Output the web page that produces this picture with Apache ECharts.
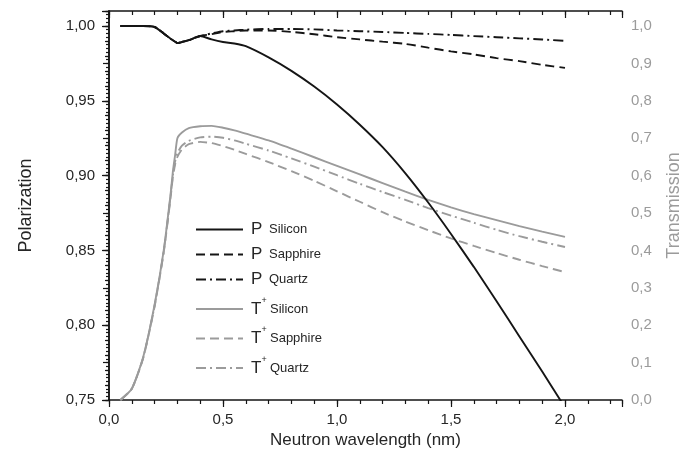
<!DOCTYPE html>
<html>
<head>
<meta charset="utf-8">
<script src="https://cdn.jsdelivr.net/npm/echarts@6/dist/echarts.min.js"></script>
<style>
  html, body { margin: 0; padding: 0; background: #fff; }
  #chart { width: 681px; height: 463px; }
</style>
</head>
<body>
<div id="chart"></div>
<script>
// Neutron wavelength (nm) sampling shared by all curves
const wavelength = [0.05, 0.10, 0.15, 0.20, 0.24, 0.27, 0.28, 0.29, 0.30, 0.32, 0.35, 0.40, 0.45, 0.50, 0.55, 0.60,
                    0.70, 0.80, 0.90, 1.00, 1.10, 1.20, 1.30, 1.40, 1.50, 1.60, 1.70, 1.80, 1.90, 2.00];

// Polarization P (left axis)
const pSilicon  = [1.000, 1.000, 1.000, 0.9993, 0.995, 0.9915, 0.9905, 0.9895, 0.9885, 0.9893, 0.9905, 0.9933, 0.991, 0.9893, 0.9883, 0.9865,
                   0.979, 0.970, 0.9595, 0.9475, 0.934, 0.919, 0.9015, 0.882, 0.861, 0.839, 0.816, 0.7925, 0.769, 0.745];
const pSapphire = [1.000, 1.000, 1.000, 0.9993, 0.995, 0.9915, 0.9905, 0.9895, 0.9885, 0.9893, 0.9905, 0.9933, 0.9945, 0.996, 0.9965, 0.997,
                   0.997, 0.996, 0.9945, 0.9925, 0.991, 0.9895, 0.988, 0.9855, 0.983, 0.981, 0.9785, 0.9765, 0.974, 0.972];
const pQuartz   = [1.000, 1.000, 1.000, 0.9993, 0.995, 0.9915, 0.9905, 0.9895, 0.9885, 0.9893, 0.9905, 0.9933, 0.995, 0.9965, 0.997, 0.9975,
                   0.998, 0.998, 0.9977, 0.997, 0.9965, 0.996, 0.9953, 0.9947, 0.994, 0.9932, 0.9925, 0.9917, 0.991, 0.990];

// Transmission T+ (right axis)
const tSilicon  = [0.000, 0.030, 0.115, 0.255, 0.400, 0.550, 0.610, 0.655, 0.700, 0.715, 0.727, 0.732, 0.733, 0.728, 0.721, 0.712,
                   0.694, 0.672, 0.649, 0.626, 0.603, 0.580, 0.557, 0.535, 0.515, 0.497, 0.481, 0.465, 0.450, 0.436];
const tSapphire = [0.000, 0.030, 0.112, 0.250, 0.395, 0.540, 0.595, 0.630, 0.650, 0.670, 0.684, 0.690, 0.687, 0.679, 0.669, 0.658,
                   0.636, 0.612, 0.586, 0.558, 0.530, 0.502, 0.477, 0.454, 0.432, 0.412, 0.393, 0.375, 0.358, 0.342];
const tQuartz   = [0.000, 0.030, 0.113, 0.252, 0.397, 0.545, 0.600, 0.638, 0.660, 0.680, 0.693, 0.702, 0.704, 0.701, 0.694, 0.685,
                   0.667, 0.646, 0.624, 0.601, 0.578, 0.556, 0.535, 0.513, 0.493, 0.474, 0.455, 0.438, 0.423, 0.409];

const seriesNames = ['P Silicon', 'P Sapphire', 'P Quartz', 'T+ Silicon', 'T+ Sapphire', 'T+ Quartz'];

const BLACK = '#151515';
const GRAY = '#9b9b9b';
const LABEL = '#262626';
const FONT = '"Liberation Sans", Arial, sans-serif';
const GRID = { left: 109, right: 59, top: 11, bottom: 63, containLabel: false, outerBoundsMode: 'none' };

const pairs = ys => wavelength.map((x, i) => [x, ys[i]]);
const comma = (v, d) => v.toFixed(d).replace('.', ',');

function lineSeries(name, ys, yAxisIndex, color, type) {
  return {
    name, type: 'line', xAxisIndex: 0, yAxisIndex,
    data: pairs(ys), symbol: 'none', clip: true,
    smooth: 0.2,
    lineStyle: { color, width: 1.9, type },
    itemStyle: { color },
    z: yAxisIndex === 0 ? 3 : 2
  };
}

const dashed = [9, 5];
const dashDot = [10, 4, 2, 4];

// Minor ticks carry labels; a second grid with the same box carries the longer major ticks
const tickLine = { color: BLACK, width: 1.2 };

const option = {
  animation: false,
  backgroundColor: '#fff',
  textStyle: { fontFamily: FONT },
  grid: [Object.assign({}, GRID), Object.assign({}, GRID)],
  xAxis: [
    {
      gridIndex: 0, type: 'value', position: 'bottom', min: 0, max: 2.25, interval: 0.1,
      axisLine: { show: true, lineStyle: { color: BLACK, width: 1.5 } },
      axisTick: { show: true, inside: false, length: 4, lineStyle: tickLine },
      axisLabel: {
        margin: 12, fontSize: 15, color: LABEL, fontFamily: FONT,
        formatter: v => (Math.round(v * 10) % 5 === 0 && v <= 2.001) ? comma(v, 1) : ''
      },
      splitLine: { show: false },
      name: 'Neutron wavelength (nm)', nameLocation: 'middle', nameGap: 31,
      nameTextStyle: { fontSize: 17, color: LABEL, fontFamily: FONT }
    },
    {
      gridIndex: 0, type: 'value', position: 'top', min: 0, max: 2.25, interval: 0.1,
      axisLine: { show: true, lineStyle: { color: BLACK, width: 1.5 } },
      axisTick: { show: true, inside: true, length: 4, lineStyle: tickLine },
      axisLabel: { show: false }, splitLine: { show: false }
    },
    {
      gridIndex: 1, type: 'value', position: 'bottom', min: 0, max: 2.25, interval: 0.5,
      axisLine: { show: false },
      axisTick: { show: true, inside: false, length: 7, lineStyle: tickLine },
      axisLabel: { show: false }, splitLine: { show: false }
    },
    {
      gridIndex: 1, type: 'value', position: 'top', min: 0, max: 2.25, interval: 0.5,
      axisLine: { show: false },
      axisTick: { show: true, inside: true, length: 7, lineStyle: tickLine },
      axisLabel: { show: false }, splitLine: { show: false }
    }
  ],
  yAxis: [
    {
      gridIndex: 0, type: 'value', position: 'left', min: 0.75, max: 1.01, interval: 0.01,
      axisLine: { show: true, lineStyle: { color: BLACK, width: 1.5 } },
      axisTick: { show: true, inside: false, length: 4, lineStyle: tickLine },
      axisLabel: {
        margin: 14, fontSize: 15, color: LABEL, fontFamily: FONT,
        formatter: v => (Math.round(v * 100) % 5 === 0) ? comma(v, 2) : ''
      },
      splitLine: { show: false },
      name: 'Polarization', nameLocation: 'middle', nameGap: 74, nameRotate: 90,
      nameTextStyle: { fontSize: 18, color: LABEL, fontFamily: FONT }
    },
    {
      gridIndex: 0, type: 'value', position: 'right', min: 0, max: 1.04, interval: 0.01,
      axisLine: { show: true, lineStyle: { color: BLACK, width: 1.5 } },
      axisTick: { show: true, inside: true, length: 3, lineStyle: tickLine },
      axisLabel: {
        margin: 9, fontSize: 15, color: GRAY, fontFamily: FONT,
        formatter: v => (Math.round(v * 100) % 10 === 0) ? comma(v, 1) : ''
      },
      splitLine: { show: false },
      name: 'Transmission', nameLocation: 'middle', nameGap: 43, nameRotate: 90,
      nameTextStyle: { fontSize: 18, color: GRAY, fontFamily: FONT }
    },
    {
      gridIndex: 1, type: 'value', position: 'left', min: 0.75, max: 1.01, interval: 0.05,
      axisLine: { show: false },
      axisTick: { show: true, inside: false, length: 7, lineStyle: tickLine },
      axisLabel: { show: false }, splitLine: { show: false }
    },
    {
      gridIndex: 1, type: 'value', position: 'right', min: 0, max: 1.04, interval: 0.1,
      axisLine: { show: false },
      axisTick: { show: true, inside: true, length: 6, lineStyle: tickLine },
      axisLabel: { show: false }, splitLine: { show: false }
    }
  ],
  legend: {
    orient: 'vertical', left: 190, top: 216,
    itemWidth: 47, itemHeight: 12, itemGap: 8,
    data: seriesNames,
    selectedMode: false,
    itemStyle: { opacity: 0 },
    formatter: name => {
      const [sym, mat] = name.split(' ');
      return sym === 'P' ? '{big|P}  {sm|' + mat + '}' : '{big|T}{sup|+} {sm|' + mat + '}';
    },
    textStyle: {
      color: LABEL, fontFamily: FONT,
      rich: {
        big: { fontSize: 17, color: LABEL, fontFamily: FONT, padding: [0, 0, 0, 3] },
        sm: { fontSize: 13, color: LABEL, fontFamily: FONT },
        sup: { fontSize: 9, color: LABEL, fontFamily: FONT, verticalAlign: 'top', padding: [0, 0, 17, 0] }
      }
    }
  },
  series: [
    lineSeries('P Silicon', pSilicon, 0, BLACK, 'solid'),
    lineSeries('P Sapphire', pSapphire, 0, BLACK, dashed),
    lineSeries('P Quartz', pQuartz, 0, BLACK, dashDot),
    lineSeries('T+ Silicon', tSilicon, 1, GRAY, 'solid'),
    lineSeries('T+ Sapphire', tSapphire, 1, GRAY, dashed),
    lineSeries('T+ Quartz', tQuartz, 1, GRAY, dashDot)
  ]
};

const chart = echarts.init(document.getElementById('chart'), null, { renderer: 'canvas' });
chart.setOption(option);
</script>
</body>
</html>
